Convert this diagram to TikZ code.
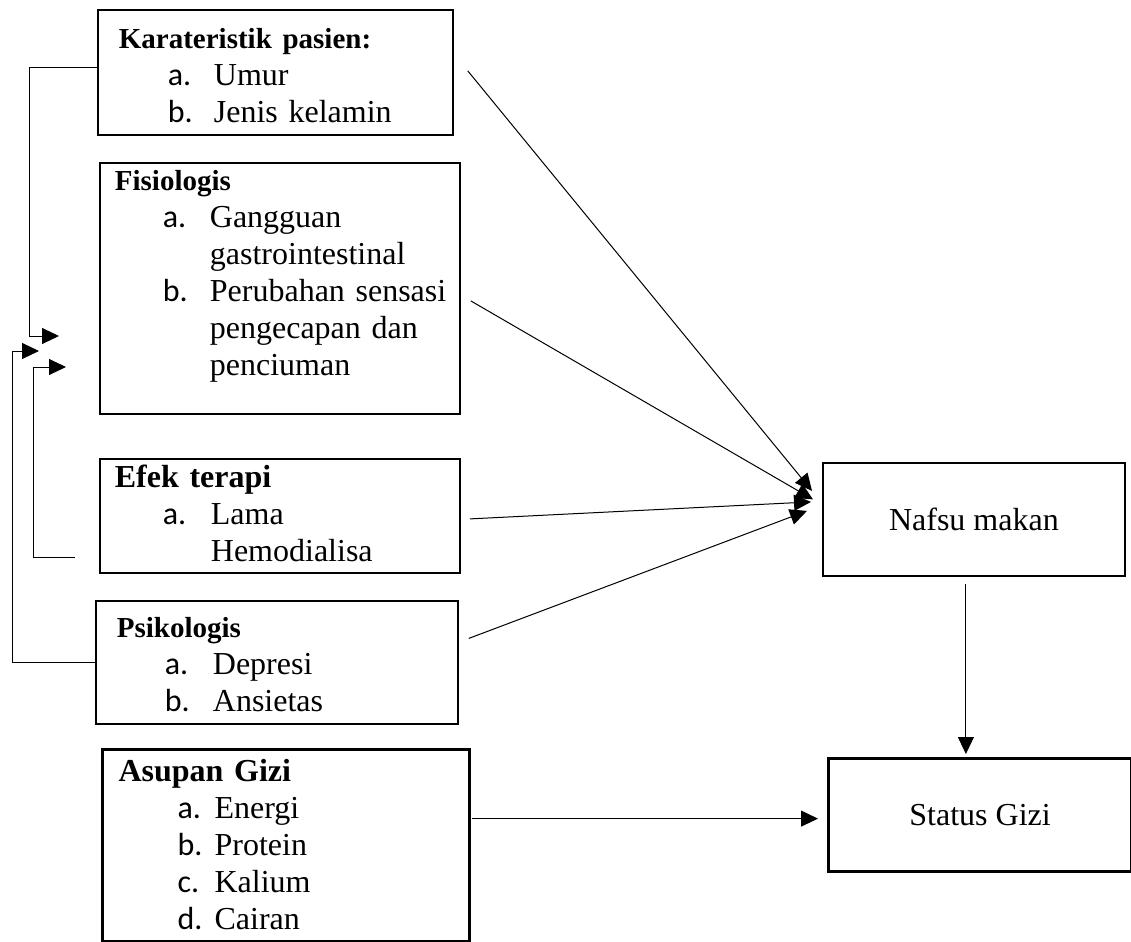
\documentclass[tikz,border=0pt]{standalone}
\usepackage{fontspec}
\setmainfont{Liberation Serif}
\setsansfont{Carlito}
\usetikzlibrary{arrows.meta,calc,positioning}

\newcommand{\butir}[3][23pt]{\hspace*{#2}\makebox[#1][l]{\sffamily #3}}
\newcommand{\judul}[3][14.5pt]{\hspace*{#2}{\fontsize{#1}{18.5pt}\selectfont\bfseries #3}}

\tikzset{%
  % Specifications for style of nodes:
         kotak/.style = { rectangle, draw = black, line width=0.9pt, anchor=north west, inner sep=0pt, align=left, font=\fontsize{16pt}{18.5pt}\selectfont },
         tebal/.style = { kotak, line width=1.6pt },
         hasil/.style = { rectangle, draw = black, anchor=north west, inner sep=0pt, minimum width=151pt, minimum height=56.5pt, font=\fontsize{16pt}{18.5pt}\selectfont },
         panah/.style = { -{Triangle[length=8.5pt,width=8pt]}, line width=0.5pt },
}

\begin{document}
\begin{tikzpicture}[x=0.5pt, y=-0.5pt]
    \useasboundingbox (0,0) rectangle (1131,942);

    % Draw nodes
    \node (karak)  [kotak, text width=177.5pt, text height=19.5pt, text depth=43pt] at (97,9)
        {\judul{10.5pt}{Karateristik pasien:}\\
         \butir{35pt}{a.}Umur\\
         \butir{35pt}{b.}Jenis kelamin};
    \node (fisio)  [kotak, text width=180pt, text height=14pt, text depth=111.5pt] at (99,162)
        {\judul{7.5pt}{Fisiologis}\\
         \butir[23.5pt]{31.5pt}{a.}Gangguan\\
         \hspace*{55pt}gastrointestinal\\
         \butir[23.5pt]{31.5pt}{b.}Perubahan sensasi\\
         \hspace*{55pt}pengecapan dan\\
         \hspace*{55pt}penciuman};
    \node (efek)   [kotak, text width=180pt, text height=14.5pt, text depth=42.5pt] at (99,458)
        {\judul[16pt]{7.5pt}{Efek terapi}\\
         \butir[24pt]{31.5pt}{a.}Lama\\
         \hspace*{55.5pt}Hemodialisa};
    \node (psiko)  [kotak, text width=181pt, text height=18.5pt, text depth=43pt] at (95,600)
        {\judul{10.5pt}{Psikologis}\\
         \butir[24pt]{34.5pt}{a.}Depresi\\
         \butir[24pt]{34.5pt}{b.}Ansietas};
    \node (asupan) [tebal, text width=183.5pt, text height=16pt, text depth=80pt] at (101,748)
        {\judul[16pt]{8pt}{Asupan Gizi}\\
         \butir[18.5pt]{37.5pt}{a.}Energi\\
         \butir[18.5pt]{37.5pt}{b.}Protein\\
         \butir[18.5pt]{37.5pt}{c.}Kalium\\
         \butir[18.5pt]{37.5pt}{d.}Cairan};
    \node (nafsu)  [hasil, line width=0.9pt] at (822,462) {Nafsu makan};
    \node (status) [hasil, line width=1.6pt, minimum width=151.5pt] at (827,757) {Status Gizi};

    \coordinate (fb-karak) at (59,336);
    \coordinate (fb-psiko) at (39,351);
    \coordinate (fb-efek)  at (66,367);
    \coordinate (nafsu-out) at ($(nafsu.south)+(-8,7)$);

    % Draw arrows
    \draw[panah]    ($(karak.east)+(14,-1.5)$) -- ($(nafsu.west)+(-10,-28.5)$);
    \draw[panah]    ($(fisio.east)+(10,12.5)$) -- ($(nafsu.west)+(-9,-20)$);
    \draw[panah]    ($(efek.east)+(9,3)$) -- ($(nafsu.west)+(-11,-17.5)$);
    \draw[panah]    ($(psiko.east)+(10,-24)$) -- ($(nafsu.west)+(-15,-8.5)$);
    \draw[panah, shorten >=1.5pt]    (nafsu-out) -- (nafsu-out |- status.north);
    \draw[panah]    ($(asupan.east)+(1,-27)$) -- ($(status.west)+(-9,3.5)$);

    \draw[panah]    ($(karak.west)+(0,-4.5)$) -- ++(-68,0) |- (fb-karak);
    \draw[panah]    (psiko.west) -- ++(-83,0) |- (fb-psiko);
    \draw[panah]    ($(efek.west)+(-24,42)$) -- ++(-42,0) |- (fb-efek);
\end{tikzpicture}
\end{document}
